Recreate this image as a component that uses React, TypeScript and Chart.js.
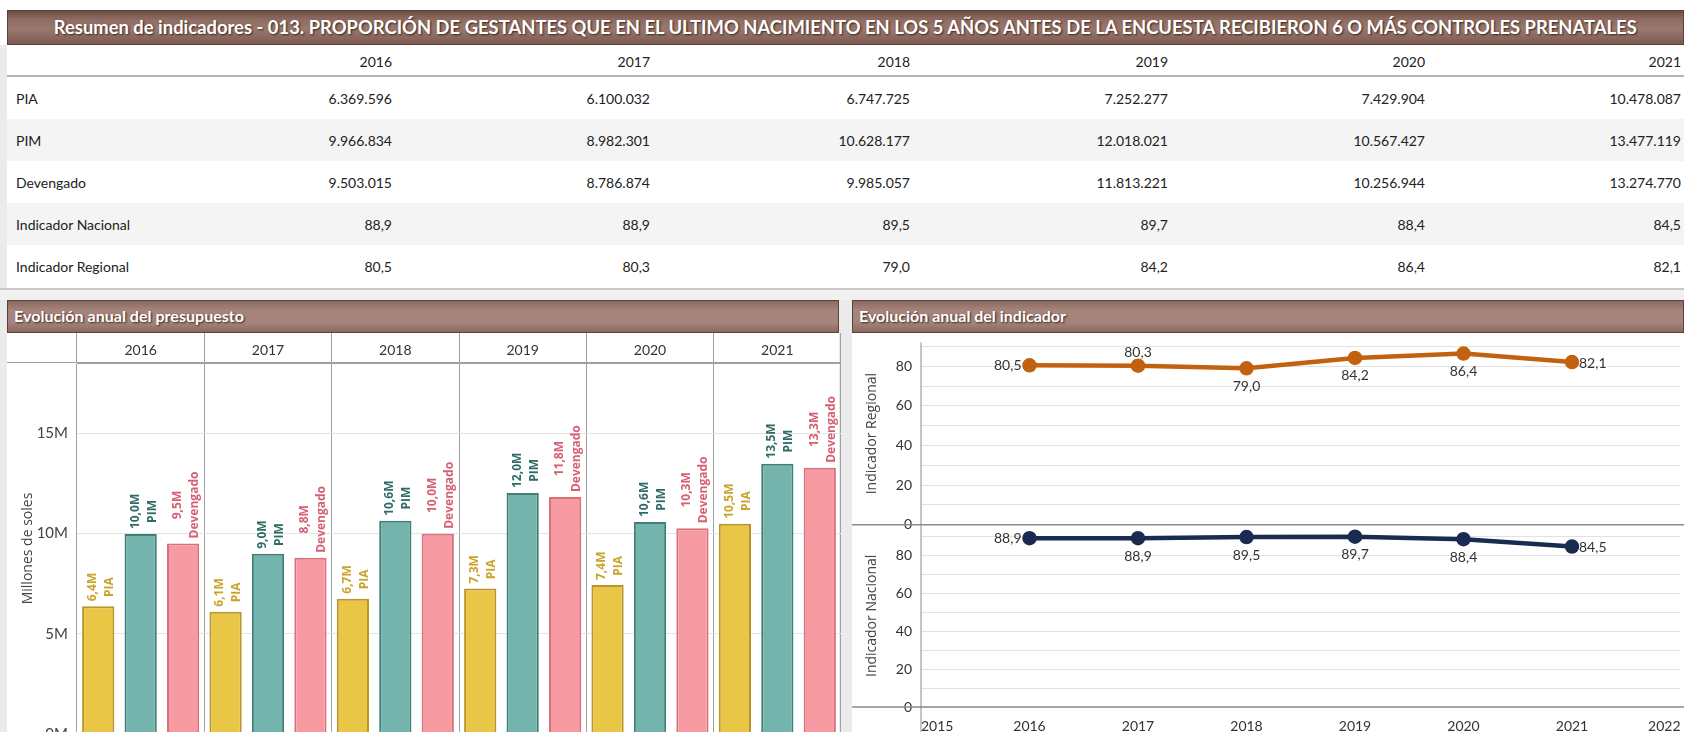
import React, { useEffect, useLayoutEffect, useRef } from 'react';
import { Chart, registerables } from 'chart.js';

Chart.register(...registerables);

// ---------- DATA ----------
const TITLE =
  'Resumen de indicadores - 013. PROPORCIÓN DE GESTANTES QUE EN EL ULTIMO NACIMIENTO EN LOS 5 AÑOS ANTES DE LA ENCUESTA RECIBIERON 6 O MÁS CONTROLES PRENATALES';
const YEARS = ['2016', '2017', '2018', '2019', '2020', '2021'];
const YEAR_NUMS = [2016, 2017, 2018, 2019, 2020, 2021];
const PIA = [6369596, 6100032, 6747725, 7252277, 7429904, 10478087];
const PIM = [9966834, 8982301, 10628177, 12018021, 10567427, 13477119];
const DEVENGADO = [9503015, 8786874, 9985057, 11813221, 10256944, 13274770];
const IND_NACIONAL = [88.9, 88.9, 89.5, 89.7, 88.4, 84.5];
const IND_REGIONAL = [80.5, 80.3, 79.0, 84.2, 86.4, 82.1];
const ROW_LABELS = ['PIA', 'PIM', 'Devengado', 'Indicador Nacional', 'Indicador Regional'];
const BAR_SERIES = ['PIA', 'PIM', 'Devengado'];
const LINE_X_TICKS = { min: 2015, max: 2022 };
const BAR_Y_MAX = 18.5e6;

// ---------- STYLE ----------
const BAR_FILL = ['#e9c646', '#74b4ad', '#f89aa2'];
const BAR_BORDER = ['#b8962a', '#3f7f78', '#d7727d'];
const BAR_LABEL = ['#c9a42c', '#2f6c66', '#d65f74'];
const REG_COLOR = '#c2610f';
const NAC_COLOR = '#1b2a50';
const REG_LABEL_POS = ['left', 'above', 'below', 'below', 'below', 'right'];
const NAC_LABEL_POS = ['left', 'below', 'below', 'below', 'below', 'right'];

const fmtThousands = (n: number) => String(n).replace(/\B(?=(\d{3})+(?!\d))/g, '.');
const fmtDec = (n: number) => n.toFixed(1).replace('.', ',');
const fmtM = (n: number) => (n / 1e6).toFixed(1).replace('.', ',') + 'M';

function FitText(props: { text: string; width: number; origin: string; style?: React.CSSProperties }) {
  const ref = useRef<HTMLSpanElement>(null);
  useLayoutEffect(() => {
    const el = ref.current;
    if (!el) return;
    el.style.transform = 'none';
    const w = el.getBoundingClientRect().width;
    if (w > 0) el.style.transform = `scaleX(${props.width / w})`;
  }, [props.text, props.width]);
  return (
    <span
      ref={ref}
      style={{ display: 'inline-block', whiteSpace: 'nowrap', transformOrigin: props.origin, ...props.style }}
    >
      {props.text}
    </span>
  );
}

const barLabelPlugin = {
  id: 'barLabels',
  afterDatasetsDraw(chart: any) {
    const ctx = chart.ctx;
    chart.data.datasets.forEach((ds: any, di: number) => {
      const meta = chart.getDatasetMeta(di);
      meta.data.forEach((el: any, i: number) => {
        const lines = [fmtM(ds.data[i]), ds.label];
        ctx.save();
        ctx.font = 'bold 12px "Open Sans"';
        ctx.fillStyle = BAR_LABEL[di];
        const W = Math.max(...lines.map((l: string) => ctx.measureText(l).width));
        ctx.translate(el.x + 3, el.y - 5);
        ctx.rotate(-Math.PI / 2);
        ctx.textBaseline = 'middle';
        ctx.textAlign = 'center';
        lines.forEach((l: string, k: number) => ctx.fillText(l, W / 2, (k - 0.5) * 17));
        ctx.restore();
      });
    });
  },
};

const lineFramePlugin = {
  id: 'lineFrame',
  beforeDatasetsDraw(chart: any) {
    const { ctx, width, height } = chart;
    const yReg = chart.scales.yReg;
    const yNac = chart.scales.yNac;
    const x = chart.scales.x;
    ctx.save();
    ctx.strokeStyle = '#8a8a8a';
    ctx.lineWidth = 1.5;
    [yReg.getPixelForValue(0), yNac.getPixelForValue(0)].forEach((py: number) => {
      ctx.beginPath();
      ctx.moveTo(0, py);
      ctx.lineTo(width, py);
      ctx.stroke();
    });
    const px = x.getPixelForValue(LINE_X_TICKS.min);
    ctx.lineWidth = 1;
    ctx.beginPath();
    ctx.moveTo(px, chart.chartArea.top);
    ctx.lineTo(px, height);
    ctx.stroke();
    ctx.restore();
  },
};

const pointLabelPlugin = {
  id: 'pointLabels',
  afterDatasetsDraw(chart: any) {
    const ctx = chart.ctx;
    const positions = [REG_LABEL_POS, NAC_LABEL_POS];
    chart.data.datasets.forEach((ds: any, di: number) => {
      const meta = chart.getDatasetMeta(di);
      meta.data.forEach((el: any, i: number) => {
        const txt = fmtDec(ds.data[i].y);
        const pos = positions[di][i];
        ctx.save();
        ctx.font = '14px Lato';
        ctx.fillStyle = '#333';
        ctx.textBaseline = 'middle';
        let x = el.x;
        let y = el.y;
        if (pos === 'left') {
          ctx.textAlign = 'right';
          x -= 8;
        } else if (pos === 'right') {
          ctx.textAlign = 'left';
          x += 7;
          y += 1;
        } else if (pos === 'above') {
          ctx.textAlign = 'center';
          y -= 13;
        } else {
          ctx.textAlign = 'center';
          y += 18;
        }
        ctx.fillText(txt, x, y);
        ctx.restore();
      });
    });
  },
};

function BarChart() {
  const ref = useRef<HTMLCanvasElement>(null);
  useEffect(() => {
    const chart = new Chart(ref.current as HTMLCanvasElement, {
      type: 'bar',
      data: {
        labels: YEARS,
        datasets: [PIA, PIM, DEVENGADO].map((d, i) => ({
          label: BAR_SERIES[i],
          data: d,
          backgroundColor: BAR_FILL[i],
          borderColor: BAR_BORDER[i],
          borderWidth: 2,
          categoryPercentage: 1.0,
          barPercentage: 0.76,
        })),
      },
      options: {
        animation: false,
        responsive: false,
        layout: { padding: 0 },
        plugins: { legend: { display: false }, tooltip: { enabled: false } },
        scales: {
          x: {
            position: 'top',
            grid: { offset: true, color: '#a0a0a0', tickLength: 30, drawOnChartArea: true },
            border: { color: '#a0a0a0' },
            ticks: { font: { family: 'Lato', size: 14 }, color: '#333', padding: -26 },
            afterFit: (s: any) => {
              s.height = 30;
              s.paddingLeft = 0;
              s.paddingRight = 0;
            },
          },
          y: {
            min: 0,
            max: BAR_Y_MAX,
            ticks: {
              maxTicksLimit: 5,
              includeBounds: false,
              callback: (v: any) => Number(v) / 1e6 + 'M',
              font: { family: 'Lato', size: 15 },
              color: '#444',
              padding: 9,
            },
            grid: { color: '#e4e4e4', drawTicks: false },
            border: { display: false },
            title: {
              display: true,
              text: 'Millones de soles',
              font: { family: 'Open Sans', size: 14 },
              color: '#444',
              padding: { top: 13, bottom: 0 },
            },
            afterFit: (s: any) => {
              s.width = 70;
              s.paddingTop = 0;
              s.paddingBottom = 0;
            },
          },
        },
      } as any,
      plugins: [barLabelPlugin],
    });
    return () => chart.destroy();
  }, []);
  return <canvas ref={ref} width={834} height={401} style={{ position: 'absolute', left: 7, top: 333 }} />;
}

function LineChart() {
  const ref = useRef<HTMLCanvasElement>(null);
  useEffect(() => {
    const yCommon = (max: number, title: string) => ({
      position: 'left',
      stack: 'ind',
      stackWeight: 1,
      min: 0,
      max,
      ticks: {
        stepSize: 10,
        includeBounds: false,
        autoSkip: false,
        callback: (v: any) => (Number(v) % 20 === 0 ? String(v) : ''),
        font: { family: 'Lato', size: 14 },
        color: '#333',
        padding: 9,
      },
      grid: { color: '#e2e2e2', drawTicks: false },
      border: { display: false },
      title: {
        display: true,
        text: title,
        font: { family: 'Open Sans', size: 14 },
        color: '#444',
        padding: { top: 12, bottom: 0 },
      },
      afterFit: (s: any) => {
        s.width = 69;
        s.paddingTop = 0;
        s.paddingBottom = 0;
      },
    });
    const chart = new Chart(ref.current as HTMLCanvasElement, {
      type: 'line',
      data: {
        datasets: [
          {
            label: 'Indicador Regional',
            data: YEAR_NUMS.map((x, i) => ({ x, y: IND_REGIONAL[i] })),
            yAxisID: 'yReg',
            borderColor: REG_COLOR,
            backgroundColor: REG_COLOR,
            borderWidth: 4.5,
            pointRadius: 5,
            pointBackgroundColor: REG_COLOR,
            pointBorderColor: REG_COLOR,
          },
          {
            label: 'Indicador Nacional',
            data: YEAR_NUMS.map((x, i) => ({ x, y: IND_NACIONAL[i] })),
            yAxisID: 'yNac',
            borderColor: NAC_COLOR,
            backgroundColor: NAC_COLOR,
            borderWidth: 4.5,
            pointRadius: 5,
            pointBackgroundColor: NAC_COLOR,
            pointBorderColor: NAC_COLOR,
          },
        ],
      },
      options: {
        animation: false,
        responsive: false,
        layout: { padding: { top: 5, right: 5, bottom: 0, left: 0 } },
        plugins: { legend: { display: false }, tooltip: { enabled: false } },
        scales: {
          x: {
            type: 'linear',
            min: LINE_X_TICKS.min,
            max: LINE_X_TICKS.max,
            ticks: {
              stepSize: 1,
              align: 'inner',
              callback: (v: any) => String(v),
              font: { family: 'Lato', size: 14 },
              color: '#333',
              padding: 11,
            },
            grid: { display: false, drawTicks: false },
            border: { display: false },
            afterFit: (s: any) => {
              s.height = 25;
              s.paddingLeft = 0;
              s.paddingRight = 0;
            },
          },
          yNac: yCommon(96, 'Indicador Nacional'),
          yReg: yCommon(92, 'Indicador Regional'),
        },
      } as any,
      plugins: [lineFramePlugin, pointLabelPlugin],
    });
    return () => chart.destroy();
  }, []);
  return <canvas ref={ref} width={838} height={399} style={{ position: 'absolute', left: 852, top: 333 }} />;
}

const titleBarStyle: React.CSSProperties = {
  position: 'absolute',
  background: 'linear-gradient(#6f4d44, #8e6c62 25%, #9a786e 55%, #7d5b51)',
  border: '1px solid #5d4037',
  boxSizing: 'border-box',
  color: '#fff',
  fontFamily: 'Lato',
  fontWeight: 700,
  textShadow: '1px 1px 2px #3b2520',
  overflow: 'hidden',
};

const panelBarStyle: React.CSSProperties = {
  ...titleBarStyle,
  background: 'linear-gradient(#8a6a60, #a5857b 30%, #a5857b 70%, #8a6a60)',
};

export default function App() {
  const colRight = [392, 650, 910, 1168, 1425, 1681];
  const rows: string[][] = [
    PIA.map(fmtThousands),
    PIM.map(fmtThousands),
    DEVENGADO.map(fmtThousands),
    IND_NACIONAL.map(fmtDec),
    IND_REGIONAL.map(fmtDec),
  ];
  const rowTop = [77, 119, 161, 203, 245];
  const cell: React.CSSProperties = {
    position: 'absolute',
    fontFamily: 'Lato',
    fontSize: 14,
    color: '#222',
    whiteSpace: 'nowrap',
  };
  return (
    <div
      style={{
        position: 'fixed',
        left: 0,
        top: 0,
        width: 1684,
        height: 732,
        overflow: 'hidden',
        background: '#fff',
      }}
    >
      {/* gray strips */}
      <div style={{ position: 'absolute', left: 0, top: 45, width: 7, height: 687, background: '#ebebeb' }} />
      <div style={{ position: 'absolute', left: 0, top: 288, width: 1684, height: 12, background: '#f1f1f1', borderTop: '2px solid #c9c9c9', boxSizing: 'border-box' }} />
      <div style={{ position: 'absolute', left: 839, top: 300, width: 13, height: 432, background: '#ebebeb' }} />

      {/* main title */}
      <div style={{ ...titleBarStyle, left: 7, top: 10, width: 1677, height: 35, textAlign: 'center', lineHeight: '33px', fontSize: 18 }}>
        <FitText text={TITLE} width={1583} origin="center" />
      </div>

      {/* table */}
      <div style={{ position: 'absolute', left: 7, top: 45, width: 1677, height: 32, borderBottom: '2px solid #b4b4b4', boxSizing: 'border-box' }} />
      {[1, 3].map((r) => (
        <div key={r} style={{ position: 'absolute', left: 7, top: rowTop[r], width: 1677, height: 42, background: '#f4f4f4' }} />
      ))}
      {YEARS.map((y, i) => (
        <div key={y} style={{ ...cell, top: 53, right: 1684 - colRight[i] }}>{y}</div>
      ))}
      {ROW_LABELS.map((lab, r) => (
        <React.Fragment key={lab}>
          <div style={{ ...cell, left: 16, top: rowTop[r] + 13 }}>{lab}</div>
          {rows[r].map((v, i) => (
            <div key={i} style={{ ...cell, top: rowTop[r] + 13, right: 1684 - colRight[i] }}>{v}</div>
          ))}
        </React.Fragment>
      ))}

      {/* panel titles */}
      <div style={{ ...panelBarStyle, left: 7, top: 300, width: 832, height: 33, lineHeight: '31px', fontSize: 15, paddingLeft: 6 }}>
        <FitText text="Evolución anual del presupuesto" width={230} origin="left" />
      </div>
      <div style={{ ...panelBarStyle, left: 852, top: 300, width: 832, height: 33, lineHeight: '31px', fontSize: 15, paddingLeft: 6 }}>
        <FitText text="Evolución anual del indicador" width={207} origin="left" />
      </div>

      {/* bar chart panel header line */}
      <div style={{ position: 'absolute', left: 7, top: 362, width: 834, height: 1, background: '#a0a0a0' }} />
      <BarChart />
      <LineChart />
    </div>
  );
}
